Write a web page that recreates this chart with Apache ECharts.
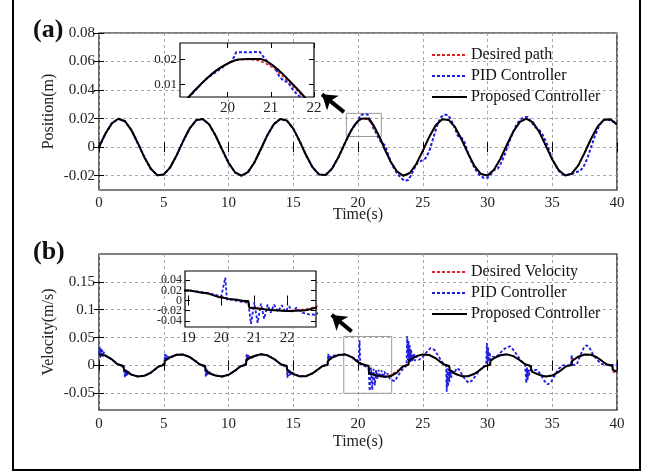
<!DOCTYPE html>
<html><head><meta charset="utf-8">
<script src="https://cdn.jsdelivr.net/npm/echarts@6/dist/echarts.min.js"></script>
<style>html,body{margin:0;padding:0;background:#fff}#c{width:652px;height:473px}</style>
</head><body><div id="c"></div>
<script>
// ---------- DATA ----------
// Panel (a): position [time(s), position(m)]
const posDesired = [[0,0],[0.5,0.0096],[1,0.0168],[1.5,0.0199],[2,0.0182],[2.5,0.012],[3,0.0028],[3.5,-0.007],[4,-0.0151],[4.5,-0.0196],[5,-0.0192],[5.5,-0.0141],[6,-0.0056],[6.5,0.0043],[7,0.0131],[7.5,0.0188],[8,0.0198],[8.5,0.016],[9,0.0082],[9.5,-0.0015],[10,-0.0109],[10.5,-0.0176],[11,-0.02],[11.5,-0.0175],[12,-0.0107],[12.5,-0.0013],[13,0.0084],[13.5,0.0161],[14,0.0198],[14.5,0.0187],[15,0.013],[15.5,0.0041],[16,-0.0058],[16.5,-0.0142],[17,-0.0192],[17.5,-0.0195],[18,-0.015],[18.5,-0.0068],[18.75,-0.002],[19,0.003],[19.25,0.0078],[19.5,0.0121],[19.75,0.0157],[20,0.0183],[20.25,0.0197],[20.5,0.0199],[20.75,0.0193],[21,0.0172],[21.25,0.0137],[21.5,0.0095],[21.75,0.0049],[22,-0.0002],[22.5,-0.0098],[23,-0.0169],[23.5,-0.02],[24,-0.0181],[24.5,-0.0118],[25,-0.0026],[25.5,0.0072],[26,0.0153],[26.5,0.0196],[27,0.0191],[27.5,0.014],[28,0.0054],[28.5,-0.0045],[29,-0.0133],[29.5,-0.0188],[30,-0.0198],[30.5,-0.0158],[31,-0.0081],[31.5,0.0017],[32,0.011],[32.5,0.0177],[33,0.02],[33.5,0.0174],[34,0.0106],[34.5,0.0011],[35,-0.0086],[35.5,-0.0162],[36,-0.0198],[36.5,-0.0186],[37,-0.0129],[37.5,-0.0039],[38,0.0059],[38.5,0.0144],[39,0.0193],[39.5,0.0195],[40,0.0155]];
const posProposed = [[0,0],[0.5,0.0096],[1,0.0168],[1.5,0.0199],[2,0.0182],[2.5,0.012],[3,0.0028],[3.5,-0.007],[4,-0.0151],[4.5,-0.0196],[5,-0.0192],[5.5,-0.0141],[6,-0.0056],[6.5,0.0043],[7,0.0131],[7.5,0.0188],[8,0.0198],[8.5,0.016],[9,0.0082],[9.5,-0.0015],[10,-0.0109],[10.5,-0.0176],[11,-0.02],[11.5,-0.0175],[12,-0.0107],[12.5,-0.0013],[13,0.0084],[13.5,0.0161],[14,0.0198],[14.5,0.0187],[15,0.013],[15.5,0.0041],[16,-0.0058],[16.5,-0.0142],[17,-0.0192],[17.5,-0.0195],[18,-0.015],[18.5,-0.0068],[18.75,-0.002],[19,0.003],[19.25,0.0078],[19.5,0.0121],[19.75,0.0157],[20,0.0183],[20.25,0.0199],[20.5,0.0201],[20.75,0.0201],[21,0.0182],[21.25,0.0146],[21.5,0.0102],[21.75,0.0056],[22,-0.0002],[22.5,-0.0098],[23,-0.0169],[23.5,-0.02],[24,-0.0181],[24.5,-0.0118],[25,-0.0026],[25.5,0.0072],[26,0.0153],[26.5,0.0196],[27,0.0191],[27.5,0.014],[28,0.0054],[28.5,-0.0045],[29,-0.0133],[29.5,-0.0188],[30,-0.0198],[30.5,-0.0158],[31,-0.0081],[31.5,0.0017],[32,0.011],[32.5,0.0177],[33,0.02],[33.5,0.0174],[34,0.0106],[34.5,0.0011],[35,-0.0086],[35.5,-0.0162],[36,-0.0198],[36.5,-0.0186],[37,-0.0129],[37.5,-0.0039],[38,0.0059],[38.5,0.0144],[39,0.0193],[39.5,0.0195],[40,0.016]];
// PID position: follows desired before 18 s, then these readings
const posPidLate = [[18,-0.015],[18.5,-0.0068],[19,0.003],[19.5,0.0121],[20,0.0183],[20.1,0.0192],[20.2,0.0228],[20.75,0.0229],[20.85,0.0205],[21,0.0178],[21.1,0.0168],[21.2,0.013],[21.3,0.0115],[21.4,0.0108],[21.5,0.0082],[21.6,0.0062],[21.75,0.004],[21.9,0.0035],[22.1,0.001],[22.3,-0.0045],[22.5,-0.0095],[22.7,-0.0135],[23,-0.018],[23.3,-0.0215],[23.6,-0.0235],[23.9,-0.023],[24.1,-0.0195],[24.4,-0.014],[24.6,-0.011],[24.9,-0.0095],[25.2,-0.008],[25.5,-0.003],[25.8,0.006],[26.1,0.015],[26.4,0.021],[26.7,0.0228],[26.95,0.0225],[27.2,0.019],[27.5,0.013],[27.7,0.008],[28,0.0065],[28.2,0.004],[28.5,-0.004],[28.8,-0.011],[29.1,-0.016],[29.4,-0.0195],[29.7,-0.0215],[30,-0.0215],[30.3,-0.0185],[30.5,-0.016],[30.8,-0.015],[31,-0.012],[31.3,-0.006],[31.6,0.002],[31.9,0.009],[32.2,0.015],[32.5,0.019],[32.8,0.021],[33.1,0.0212],[33.4,0.0175],[33.7,0.014],[34,0.012],[34.3,0.008],[34.6,0.002],[34.9,-0.006],[35.2,-0.012],[35.5,-0.0165],[35.8,-0.019],[36.1,-0.0195],[36.5,-0.019],[36.8,-0.0175],[37.1,-0.017],[37.4,-0.014],[37.7,-0.008],[38,0],[38.3,0.008],[38.6,0.0145],[38.9,0.0185],[39.2,0.0197],[39.5,0.0185],[39.7,0.0178],[40,0.0175]];

// Panel (b): velocity [time(s), velocity(m/s)]
const velDesired = [[0,0.02],[0.5,0.0176],[1,0.0108],[1.4,0.0025],[1.9,-0.003],[1.93,-0.0115],[2.5,-0.0165],[3,-0.0198],[3.5,-0.0187],[4,-0.0131],[4.6,-0.002],[5.05,0.003],[5.08,0.0115],[5.5,0.015],[6,0.0192],[6.5,0.0195],[7,0.0151],[7.5,0.0069],[7.75,0.002],[8.2,-0.003],[8.23,-0.0115],[8.5,-0.0135],[9,-0.0182],[9.5,-0.0199],[10,-0.0168],[10.5,-0.0095],[10.9,-0.002],[11.35,0.003],[11.38,0.0115],[11.5,0.0125],[12,0.0169],[12.5,0.02],[13,0.0181],[13.5,0.0119],[14.05,0.002],[14.5,-0.003],[14.53,-0.0115],[15,-0.0155],[15.5,-0.0196],[16,-0.0192],[16.5,-0.0141],[17,-0.0055],[17.2,-0.002],[17.65,0.003],[17.68,0.0115],[18,0.014],[18.5,0.0188],[19,0.0198],[19.5,0.0159],[20,0.0082],[20.3,0.002],[20.82,-0.0045],[20.85,-0.013],[21,-0.014],[21.5,-0.0178],[22,-0.02],[22.5,-0.0175],[23,-0.0107],[23.45,-0.002],[23.9,0.003],[23.93,0.0115],[24.5,0.0165],[25,0.0198],[25.5,0.0187],[26,0.0129],[26.6,0.002],[27.05,-0.003],[27.08,-0.0115],[27.5,-0.015],[28,-0.0192],[28.5,-0.0195],[29,-0.015],[29.5,-0.0068],[29.75,-0.002],[30.2,0.003],[30.23,0.0115],[30.5,0.013],[31,0.0183],[31.5,0.0199],[32,0.0167],[32.5,0.0093],[32.9,0.002],[33.35,-0.003],[33.38,-0.0115],[33.5,-0.012],[34,-0.017],[34.5,-0.02],[35,-0.0181],[35.5,-0.0117],[36.05,-0.002],[36.5,0.003],[36.53,0.0115],[37,0.0155],[37.5,0.0196],[38,0.0191],[38.5,0.0139],[39,0.0053],[39.2,0.002],[39.65,-0.003],[39.68,-0.0115],[40,-0.0133]];
const velProposed = [[0,0.02],[0.5,0.0176],[1,0.0108],[1.4,0.0025],[1.9,-0.001],[1.93,-0.008],[2.5,-0.0165],[3,-0.0198],[3.5,-0.0187],[4,-0.0131],[4.6,-0.002],[5.05,0.001],[5.08,0.008],[5.5,0.015],[6,0.0192],[6.5,0.0195],[7,0.0151],[7.5,0.0069],[7.75,0.002],[8.2,-0.001],[8.23,-0.008],[8.5,-0.0135],[9,-0.0182],[9.5,-0.0199],[10,-0.0168],[10.5,-0.0095],[10.9,-0.002],[11.35,0.001],[11.38,0.008],[11.5,0.0125],[12,0.0169],[12.5,0.02],[13,0.0181],[13.5,0.0119],[14.05,0.002],[14.5,-0.001],[14.53,-0.008],[15,-0.0155],[15.5,-0.0196],[16,-0.0192],[16.5,-0.0141],[17,-0.0055],[17.2,-0.002],[17.65,0.001],[17.68,0.008],[18,0.014],[18.5,0.0188],[19,0.0198],[19.5,0.015],[20,0.006],[20.3,0.0025],[20.82,-0.001],[20.85,-0.014],[21,-0.015],[21.5,-0.0185],[22,-0.0205],[22.5,-0.0195],[23,-0.013],[23.45,-0.002],[23.9,0.001],[23.93,0.008],[24.5,0.0165],[25,0.0198],[25.5,0.0187],[26,0.0129],[26.6,0.002],[27.05,-0.001],[27.08,-0.008],[27.5,-0.015],[28,-0.0192],[28.5,-0.0195],[29,-0.015],[29.5,-0.0068],[29.75,-0.002],[30.2,0.001],[30.23,0.008],[30.5,0.013],[31,0.0183],[31.5,0.0199],[32,0.0167],[32.5,0.0093],[32.9,0.002],[33.35,-0.001],[33.38,-0.008],[33.5,-0.012],[34,-0.017],[34.5,-0.02],[35,-0.0181],[35.5,-0.0117],[36.05,-0.002],[36.5,0.001],[36.53,0.008],[37,0.0155],[37.5,0.0196],[38,0.0191],[38.5,0.0139],[39,0.0053],[39.2,0.002],[39.65,-0.001],[39.68,-0.008],[40,-0.011]];
const velPid = [[0,0.02],[0.05,0.034],[0.1,0.013],[0.15,0.031],[0.2,0.015],[0.25,0.028],[0.3,0.016],[0.38,0.024],[0.5,0.0176],[1,0.0108],[1.4,0.0025],[1.9,-0.003],[1.95,-0.006],[2,-0.021],[2.05,-0.007],[2.1,-0.019],[2.15,-0.009],[2.2,-0.017],[2.3,-0.011],[2.4,-0.016],[2.5,-0.0165],[3,-0.0198],[3.5,-0.0187],[4,-0.0131],[4.6,-0.002],[5.05,0.003],[5.1,0.021],[5.15,0.008],[5.2,0.019],[5.25,0.01],[5.3,0.017],[5.4,0.012],[5.5,0.015],[6,0.0192],[6.5,0.0195],[7,0.0151],[7.5,0.0069],[7.75,0.002],[8.2,-0.003],[8.25,-0.021],[8.3,-0.006],[8.35,-0.019],[8.4,-0.009],[8.45,-0.017],[8.55,-0.012],[8.7,-0.016],[9,-0.0182],[9.5,-0.0199],[10,-0.0168],[10.5,-0.0095],[10.9,-0.002],[11.35,0.003],[11.4,0.021],[11.45,0.008],[11.5,0.019],[11.55,0.01],[11.6,0.017],[11.7,0.012],[11.8,0.015],[12,0.0169],[12.5,0.02],[13,0.0181],[13.5,0.0119],[14.05,0.002],[14.5,-0.003],[14.55,-0.022],[14.6,-0.006],[14.65,-0.019],[14.7,-0.009],[14.75,-0.017],[14.85,-0.012],[15,-0.0155],[15.5,-0.0196],[16,-0.0192],[16.5,-0.0141],[17,-0.0055],[17.2,-0.002],[17.65,0.003],[17.7,0.021],[17.75,0.008],[17.8,0.019],[17.85,0.01],[17.9,0.017],[18,0.014],[18.5,0.0188],[19,0.0198],[19.5,0.0159],[20,0.0082],[20.05,0.012],[20.12,0.045],[20.17,0.002],[20.22,0.005],[20.3,0.002],[20.5,-0.001],[20.82,-0.004],[20.9,-0.046],[21,-0.004],[21.1,-0.044],[21.2,-0.006],[21.3,-0.036],[21.4,-0.008],[21.5,-0.024],[21.6,-0.008],[21.72,-0.022],[21.83,-0.009],[21.94,-0.022],[22.05,-0.011],[22.16,-0.022],[22.28,-0.014],[22.45,-0.024],[22.65,-0.027],[22.85,-0.028],[23.1,-0.018],[23.4,-0.008],[23.75,0],[23.8,0.053],[23.85,0.01],[23.9,0.044],[23.95,0.008],[24,0.036],[24.05,0.006],[24.1,0.028],[24.2,0.008],[24.3,0.022],[24.4,0.008],[24.5,0.016],[24.7,0.01],[25,0.015],[25.3,0.024],[25.6,0.031],[25.9,0.028],[26.2,0.017],[26.5,0.006],[26.8,0],[26.85,-0.047],[26.9,-0.005],[26.95,-0.038],[27,-0.006],[27.05,-0.03],[27.1,-0.008],[27.2,-0.022],[27.3,-0.008],[27.45,-0.015],[27.6,-0.005],[27.8,-0.007],[28,-0.015],[28.3,-0.026],[28.55,-0.031],[28.8,-0.027],[29.1,-0.018],[29.4,-0.008],[29.7,-0.002],[29.9,0],[29.95,0.04],[30,0.005],[30.05,0.032],[30.1,0.007],[30.15,0.024],[30.25,0.01],[30.4,0.016],[30.6,0.014],[30.9,0.02],[31.2,0.028],[31.5,0.033],[31.75,0.034],[32,0.028],[32.3,0.018],[32.6,0.008],[32.9,0.001],[33,-0.032],[33.05,-0.004],[33.1,-0.026],[33.15,-0.006],[33.2,-0.018],[33.3,-0.008],[33.5,-0.009],[33.8,-0.008],[34.1,-0.016],[34.4,-0.028],[34.65,-0.034],[34.9,-0.03],[35.2,-0.018],[35.5,-0.006],[35.8,0],[36.2,0],[36.45,0],[36.5,0.019],[36.55,0],[36.9,0.002],[37.2,0.02],[37.45,0.032],[37.65,0.036],[37.85,0.033],[38.1,0.022],[38.4,0.012],[38.7,0.004],[39,0.001],[39.5,0.001],[40,0.001]];

// Tick values
const timeTicks = [0,5,10,15,20,25,30,35,40];
const posTicks = [-0.02,0,0.02,0.04,0.06,0.08];
const velTicks = [-0.05,0,0.05,0.1,0.15];
const insetPosXTicks = [20,21,22];
const insetPosYTicks = [0.01,0.02];
const insetVelXTicks = [19,20,21,22];
const insetVelYTicks = [-0.04,-0.02,0,0.02,0.04];

// Zoom boxes and arrows (data coordinates)
const posZoomBox = [[19.1,0.0237],[21.8,0.0075]];
const velZoomBox = [[18.9,0.052],[22.6,-0.05]];
const posArrow = [[18.92,0.0246],[17.22,0.037]];
const velArrow = [[19.51,0.061],[17.97,0.0907]];

// ---------- CHART ----------
const posPid = posDesired.filter(p => p[0] < 18).concat(posPidLate);
const FONT = 'Liberation Serif';
const RED = '#e0201c', BLUE = '#1e1ee0', BLK = '#000';
const txt = '#222';

function axisBase(dim, grid, min, max, position, ticks, labelTicks, opts) {
  const ax = {
    gridIndex: grid, type: 'value', min: min, max: max, position: position,
    axisLine: {show: false},
    axisTick: {inside: true, length: 5, customValues: ticks, lineStyle: {color: BLK, width: 1}},
    axisLabel: labelTicks ? {customValues: labelTicks, fontFamily: FONT, fontSize: opts.fs, color: txt,
      margin: opts.margin, hideOverlap: false, showMinLabel: true, showMaxLabel: true}
      : {show: false, customValues: ticks},
    splitLine: {show: !!opts.split, lineStyle: {color: '#a8a8a8', type: [3, 3], width: 1}},
    z: opts.z || 0
  };
  if (opts.name) {
    ax.name = opts.name; ax.nameLocation = 'middle'; ax.nameGap = opts.nameGap;
    ax.nameMoveOverlap = false;
    ax.nameTextStyle = {fontFamily: FONT, fontSize: 16, color: txt};
  }
  return ax;
}
function axisPair(dim, grid, min, max, ticks, opts) {
  const isX = dim === 'x';
  return [
    axisBase(dim, grid, min, max, isX ? 'bottom' : 'left', ticks, ticks, opts),
    axisBase(dim, grid, min, max, isX ? 'top' : 'right', ticks, null, {z: opts.z})
  ];
}

const xAxis = [].concat(
  axisPair('x', 0, 0, 40, timeTicks, {fs: 15, margin: 6, split: true, name: 'Time(s)', nameGap: 17}),
  axisPair('x', 1, 0, 40, timeTicks, {fs: 15, margin: 7, split: true, name: 'Time(s)', nameGap: 24}),
  axisPair('x', 2, 18.9, 22, insetPosXTicks, {fs: 15, margin: 4, z: 3}),
  axisPair('x', 3, 18.9, 22.87, insetVelXTicks, {fs: 15, margin: 4, z: 3})
);
const yAxis = [].concat(
  axisPair('y', 0, -0.03, 0.08, posTicks, {fs: 15, margin: 4, split: true, name: 'Position(m)', nameGap: 42}),
  axisPair('y', 1, -0.08, 0.2, velTicks, {fs: 15, margin: 4, split: true, name: 'Velocity(m/s)', nameGap: 42}),
  axisPair('y', 2, 0.005, 0.0265, insetPosYTicks, {fs: 13, margin: 3, z: 3}),
  [axisBase('y', 3, -0.052, 0.058, 'left', insetVelYTicks, [-0.04, 0, 0.04], {fs: 12, margin: 3, z: 3}),
   axisBase('y', 3, -0.052, 0.058, 'right', insetVelYTicks, null, {z: 3}),
   axisBase('y', 3, -0.052, 0.058, 'left', insetVelYTicks, [-0.02, 0.02], {fs: 12, margin: 3, z: 3})]
);

function line(name, data, axis, color, dashed, width, extra) {
  return Object.assign({
    type: 'line', name: name, data: data, xAxisIndex: axis, yAxisIndex: axis,
    symbol: 'none', showSymbol: false, animation: false,
    lineStyle: {color: color, width: width, type: dashed ? [3, 2] : 'solid'},
    itemStyle: {color: color}
  }, extra || {});
}
function boxAndArrow(box, arrow) {
  return {
    markArea: {silent: true, itemStyle: {color: 'rgba(0,0,0,0)', borderColor: '#9a9a9a', borderWidth: 1},
      data: [[{coord: box[0]}, {coord: box[1]}]]},
    markLine: {silent: true, symbol: ['none', 'arrow'], symbolSize: 14, label: {show: false},
      lineStyle: {color: BLK, width: 4, type: 'solid'},
      data: [[{coord: arrow[0]}, {coord: arrow[1]}]]}
  };
}

const series = [
  line('Desired path', posDesired, 0, RED, true, 1.5),
  line('PID Controller', posPid, 0, BLUE, true, 2),
  line('Proposed Controller', posProposed, 0, BLK, false, 2, boxAndArrow(posZoomBox, posArrow)),
  line('Desired Velocity', velDesired, 2, RED, true, 1.5),
  line('PID Controller', velPid, 2, BLUE, true, 1.8),
  line('Proposed Controller', velProposed, 2, BLK, false, 2, boxAndArrow(velZoomBox, velArrow)),
  line('Desired path', posDesired, 4, RED, true, 1.5, {smooth: 0.3, z: 4}),
  line('PID Controller', posPid, 4, BLUE, true, 2, {z: 4}),
  line('Proposed Controller', posProposed, 4, BLK, false, 2, {smooth: 0.3, z: 4}),
  line('Desired Velocity', velDesired, 6, RED, true, 1.5, {smooth: 0.3, smoothMonotone: 'x', z: 4}),
  line('PID Controller', velPid, 6, BLUE, true, 1.8, {z: 4}),
  line('Proposed Controller', velProposed, 6, BLK, false, 2, {smooth: 0.3, smoothMonotone: 'x', z: 4})
];

const legendBase = {
  orient: 'vertical', left: 431, itemWidth: 35, itemHeight: 12, itemGap: 3, padding: 0,
  itemStyle: {opacity: 0, borderWidth: 0},
  textStyle: {fontFamily: FONT, fontSize: 16, color: '#111', lineHeight: 18, padding: [0, 0, 0, -1]},
  selectedMode: false
};

const option = {
  backgroundColor: '#fff',
  animation: false,
  title: [
    {text: '(a)', left: 28, top: 12, textStyle: {fontFamily: FONT, fontSize: 26, fontWeight: 'bold', color: '#111'}},
    {text: '(b)', left: 28, top: 234, textStyle: {fontFamily: FONT, fontSize: 26, fontWeight: 'bold', color: '#111'}}
  ],
  grid: [
    {left: 99, top: 33, width: 518, height: 157, show: true, borderColor: BLK, borderWidth: 1.2, backgroundColor: '#fff'},
    {left: 99, top: 254, width: 518, height: 156, show: true, borderColor: BLK, borderWidth: 1.2, backgroundColor: '#fff'},
    {left: 180, top: 43, width: 134, height: 54, show: true, borderColor: BLK, borderWidth: 1.2, backgroundColor: '#fff', z: 1},
    {left: 185, top: 271, width: 131, height: 56, show: true, borderColor: BLK, borderWidth: 1.2, backgroundColor: '#fff', z: 1}
  ],
  xAxis: xAxis,
  yAxis: yAxis,
  legend: [
    Object.assign({}, legendBase, {top: 46, data: ['Desired path', 'PID Controller', 'Proposed Controller']}),
    Object.assign({}, legendBase, {top: 263, data: ['Desired Velocity', 'PID Controller', 'Proposed Controller']})
  ],
  graphic: [
    {type: 'rect', shape: {x: 13, y: -5, width: 627, height: 475}, style: {fill: 'none', stroke: BLK, lineWidth: 2}, silent: true, z: 10}
  ],
  series: series
};

const chart = echarts.init(document.getElementById('c'), null, {renderer: 'canvas'});
chart.setOption(option);
</script></body></html>
